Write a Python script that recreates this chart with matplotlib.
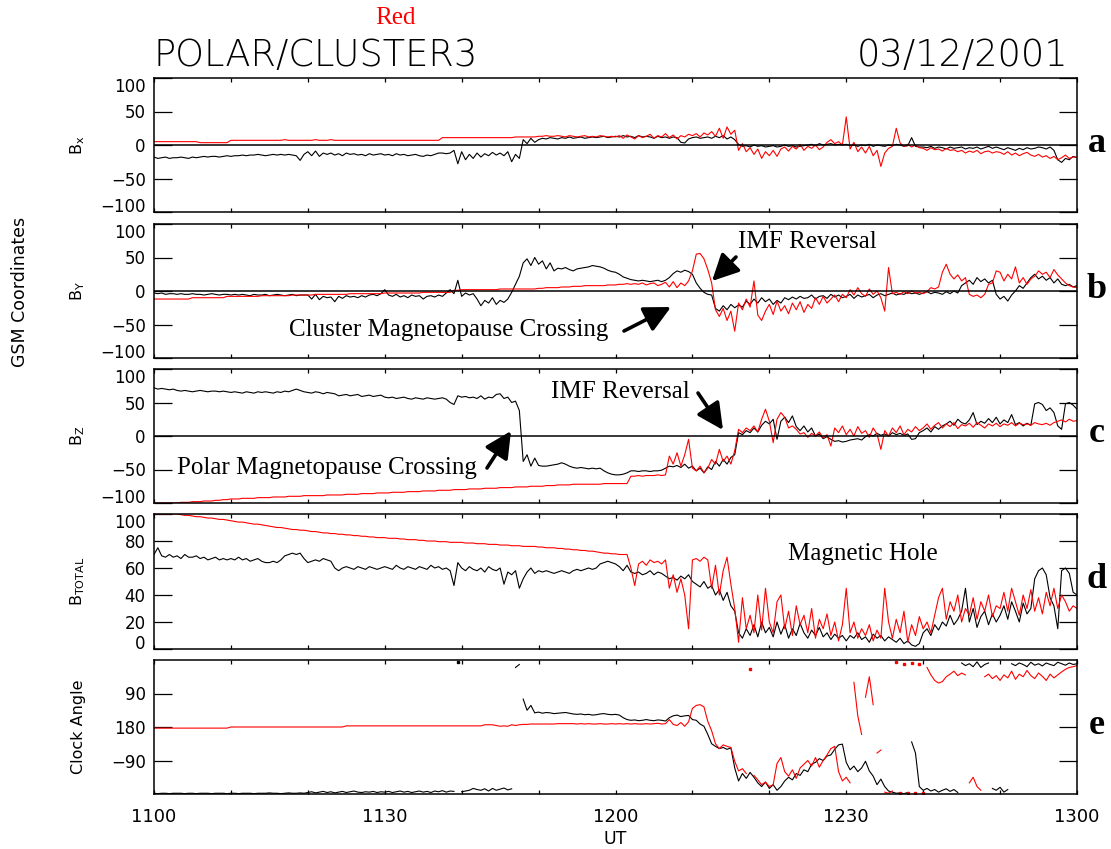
import numpy as np
import matplotlib
matplotlib.use("Agg")
import matplotlib.pyplot as plt
from matplotlib.patches import FancyArrowPatch

plt.rcParams["font.family"] = "DejaVu Sans"

# ---- magnetic field, nT, one sample every 30 s from 1100 to 1300 UT ----
# black = POLAR, red = CLUSTER3
bx_black = [
    -18, -20, -19, -18, -20, -19, -19, -18, -19, -20, -18, -19, -18, -17, -18, -17, -17, -18, -17, -16,
    -17, -16, -16, -15, -16, -15, -15, -14, -15, -16, -15, -14, -15, -14, -15, -14, -15, -16, -23, -14,
    -10, -16, -9, -17, -12, -14, -12, -15, -13, -16, -12, -14, -13, -15, -14, -16, -13, -15, -14, -13,
    -15, -14, -16, -13, -15, -14, -16, -15, -14, -16, -17, -15, -16, -14, -12, -12, -13, -12, -8, -28,
    -10, -22, -14, -20, -12, -18, -13, -16, -11, -15, -12, -16, -10, -25, -14, -20, 8, 2, 10, 4,
    8, 10, 9, 11, 10, 9, 11, 10, 12, 10, 11, 12, 10, 11, 12, 11, 12, 13, 11, 12,
    13, 12, 14, 12, 13, 11, 14, 12, 13, 12, 10, 13, 11, 12, 10, 12, 11, 4, 3, 9,
    11, 12, 10, 11, 12, 10, 13, 11, 14, 9, 12, 8, 1, -2, -1, -3, 0, -2, -1, -3,
    -2, -1, -3, -2, 0, -2, -1, -3, -2, -1, 0, 1, -1, 2, 0, 1, 2, 0, 1, 0,
    1, -1, 0, -2, 0, -1, 1, -2, 0, -1, -2, 0, -1, 1, 0, -2, -1, 11, -2, -3,
    -3, -4, -2, -5, -3, -4, -6, -3, -5, -4, -3, -6, -4, -5, -3, -6, -4, -2, -5, -3,
    -5, -7, -4, -6, -8, -5, -7, -4, -6, -5, -3, -4, -6, -3, -8, -22, -26, -20, -22, -17,
    -19,
]
bx_red = [
    5, 5, 5, 5, 5, 5, 5, 5, 5, 5, 5, 5, 3.5, 3.5, 3.5, 3.5, 3.5, 3.5, 3.5, 3.5,
    7, 7, 7, 7, 7, 7, 7, 7, 7, 7, 7, 7, 7, 7, 8, 7, 7, 7, 7, 7,
    7, 7, 8, 7, 7, 7, 8, 7, 7, 7, 7, 7, 7, 7, 7, 7, 7, 7, 7, 7,
    7, 7, 7, 7, 7, 7, 7, 7, 7, 7, 7, 7, 7, 7, 7, 11, 11, 11, 11, 11,
    11, 11, 11, 11, 11, 11, 11, 11, 11, 11, 11, 11, 11, 11, 12, 12, 12, 12, 12, 12,
    13, 13, 14, 13, 13, 14, 13, 12, 14, 13, 12, 13, 14, 12, 13, 12, 14, 13, 12, 13,
    12, 14, 10, 15, 12, 9, 14, 11, 13, 16, 10, 14, 12, 17, 11, 15, 9, 14, 12, 16,
    14, 17, 12, 18, 15, 20, 13, 25, 10, 27, 16, 22, -8, 2, -10, -4, -14, -6, -20, -10,
    -16, -8, -17, -6, -3, -9, -2, -6, 1, -8, -2, -5, 0, -7, -3, 4, 8, 2, 5, 0,
    42, -6, 4, -10, -3, -12, -2, -16, -8, -32, -12, -5, -2, 25, 3, -2, 1, -3, 0, -4,
    -5, -8, -4, -7, -6, -9, -5, -8, -7, -10, -8, -12, -9, -11, -8, -13, -10, -9, -12, -10,
    -11, -14, -10, -15, -12, -16, -13, -11, -15, -17, -14, -18, -16, -20, -17, -22, -19, -15, -20, -18,
    -18,
]
by_black = [
    -3, -4, -3, -5, -4, -4, -5, -4, -5, -5, -4, -5, -5, -6, -5, -4, -5, -6, -5, -5,
    -6, -5, -6, -5, -6, -7, -5, -6, -6, -5, -7, -6, -5, -6, -7, -6, -5, -7, -6, -6,
    -6, -12, -5, -13, -8, -10, -9, -16, -8, -11, -7, -9, -8, -10, -7, -9, -6, -5, -7, -4,
    2, -6, -8, -5, -9, -7, -10, -6, -8, -7, -12, -8, -7, -9, -6, -8, -3, 2, -4, 16,
    -8, -3, -6, -4, -12, -22, -14, -18, -10, -20, -14, -17, -12, -2, 10, 22, 42, 48, 38, 50,
    40, 45, 33, 42, 30, 34, 33, 35, 32, 30, 33, 34, 35, 36, 38, 37, 36, 34, 31, 29,
    28, 25, 21, 19, 17, 16, 15, 16, 15, 14, 15, 16, 14, 16, 20, 26, 30, 28, 31, 29,
    25, 12, 4, -2, -5, -6, -26, -30, -22, -28, -20, -25, -21, -24, -15, -20, -12, -18, -10, -16,
    -12, -20, -14, -18, -10, -13, -9, -12, -8, -11, -10, -6, -12, -8, -7, -11, -5, -9, -6, -10,
    -8, -5, -11, -6, -9, -7, -5, -10, -6, -4, -7, -5, -3, -6, -4, -5, -2, -4, -3, -5,
    -3, -1, -4, -2, -3, -5, -1, -4, 0, -3, 8, 12, 16, 10, 20, 14, 18, 12, 16, -5,
    -12, -8, -15, -6, 0, 8, 4, 12, 20, 25, 18, 22, 16, 20, 12, 18, 10, 8, 10, 6,
    8,
]
by_red = [
    -12, -12, -12, -12, -12, -12, -12, -12, -12, -12, -10, -10, -10, -10, -10, -10, -10, -10, -10, -8,
    -8, -8, -8, -8, -8, -8, -8, -8, -7, -7, -7, -7, -7, -7, -7, -7, -6, -6, -6, -6,
    -6, -6, -5, -5, -5, -5, -5, -5, -5, -5, -5, -4, -4, -4, -4, -4, -4, -4, -4, -4,
    -3, -3, -3, -3, -3, -3, -3, -3, -3, -3, -2, -2, -2, -2, -2, -2, -2, -2, 1, 1,
    2, 2, 2, 2, 2, 2, 2, 2, 2, 2, 3, 3, 3, 3, 3, 3, 3, 3, 3, 3,
    4, 4, 5, 5, 5, 5, 6, 6, 6, 7, 7, 7, 8, 8, 8, 8, 8, 8, 9, 9,
    9, 10, 10, 11, 10, 11, 10, 12, 9, 11, 12, 8, 10, 13, 6, 14, 5, 12, 8, 15,
    30, 55, 56, 48, 32, 12, -28, -38, -26, -44, -30, -60, -18, -28, -12, -24, 15, -36, -44, -30,
    -20, -35, -15, -30, -22, -34, -18, -28, -16, -32, -20, -26, -10, -20, -8, -18, -12, -6, -16, -5,
    -10, 2, -6, 5, -4, -8, 3, -5, 0, -10, -30, 35, -4, -2, -5, -1, -4, 0, -3, -2,
    -4, -1, 5, 3, 6, 28, 40, 25, 18, 24, 15, 20, -5, -8, -6, -10, -5, 10, 12, 30,
    28, 15, 25, 18, 36, 12, 20, 10, 18, 22, 30, 25, 28, 20, 32, 24, 18, 12, 8, 6,
    5,
]
bz_black = [
    72, 70, 71, 70, 69, 70, 68, 67, 68, 67, 66, 67, 68, 67, 66, 67, 67, 66, 67, 66,
    65, 66, 65, 64, 66, 65, 64, 66, 65, 66, 65, 64, 66, 65, 67, 66, 68, 70, 68, 66,
    65, 64, 66, 65, 63, 65, 64, 63, 60, 61, 62, 60, 61, 62, 59, 60, 61, 59, 60, 61,
    58, 57, 58, 56, 57, 58, 56, 55, 57, 56, 55, 57, 56, 55, 56, 57, 55, 50, 47, 60,
    58, 59, 57, 58, 56, 60, 55, 58, 57, 62, 63, 56, 58, 50, 52, 38, -38, -28, -45, -33,
    -44, -45, -45, -44, -43, -42, -40, -42, -45, -47, -48, -47, -48, -49, -48, -49, -48, -52, -55, -57,
    -58, -58, -57, -55, -52, -52, -53, -52, -52, -53, -52, -52, -51, -48, -45, -46, -44, -47, -42, -48,
    -45, -52, -48, -55, -46, -50, -38, -45, -35, -42, -32, -28, 5, 2, 8, 5, 12, 6, 16, 22,
    18, 25, -5, 22, 28, 20, 30, 14, 8, 15, 6, 12, 0, 3, -4, -1, -5, -8, -7, -9,
    -8, -6, -5, -4, -6, -1, 2, 0, 4, 1, 3, 0, 5, 2, 4, 1, 3, -5, -4, 5,
    8, 12, 6, 14, 10, 15, 18, 22, 16, 25, 20, 18, 24, 35, 17, 22, 19, 26, 20, 28,
    18, 24, 20, 32, 17, 20, 15, 19, 16, 48, 50, 47, 38, 42, 35, 15, 10, 48, 50, 46,
    40,
]
bz_red = [
    -100, -100, -100, -100, -100, -100, -100, -99, -99, -99, -98, -98, -98, -97, -97, -97, -96, -96, -95, -95,
    -94, -94, -94, -93, -93, -93, -93, -92, -92, -92, -92, -91, -91, -91, -91, -90, -90, -90, -90, -89,
    -89, -89, -89, -89, -89, -88, -88, -88, -88, -88, -87, -87, -87, -87, -86, -86, -86, -86, -85, -85,
    -85, -85, -84, -84, -84, -84, -83, -83, -83, -83, -82, -82, -82, -82, -81, -81, -81, -81, -80, -80,
    -80, -80, -79, -79, -79, -79, -78, -78, -78, -78, -77, -77, -77, -77, -76, -76, -76, -76, -75, -75,
    -75, -75, -74, -74, -74, -73, -73, -73, -73, -72, -72, -72, -72, -72, -72, -72, -72, -71, -71, -71,
    -71, -71, -71, -71, -60, -60, -59, -60, -59, -59, -59, -58, -59, -58, -30, -42, -25, -45, -28, -5,
    -48, -52, -45, -55, -48, -35, -42, -20, -38, -30, -42, -22, 10, 5, 12, 8, 15, 6, 25, 40,
    22, -10, 25, 35, 28, 12, 15, 10, 3, 5, -2, 4, 0, 6, -3, 2, -15, 12, 5, 15,
    2, 10, 0, 14, 4, 8, -2, 12, 3, -20, 8, 0, 12, 5, 15, 2, 10, 6, 14, 8,
    12, 18, 10, 16, 20, 12, 18, 14, 20, 11, 17, 15, 19, 13, 20, 16, 12, 18, 15, 19,
    14, 18, 16, 20, 15, 19, 17, 18, 16, 20, 18, 17, 19, 16, 20, 22, 24, 21, 25, 22,
    23,
]
bt_black = [
    70, 75, 69, 68, 70, 68, 69, 67, 70, 68, 68, 69, 67, 68, 66, 67, 68, 66, 67, 66,
    67, 66, 68, 66, 67, 65, 66, 67, 65, 64, 64, 65, 64, 66, 69, 70, 71, 70, 71, 67,
    64, 65, 66, 65, 67, 66, 65, 60, 58, 60, 61, 60, 59, 61, 60, 59, 61, 60, 59, 60,
    61, 60, 59, 62, 60, 59, 61, 60, 59, 61, 60, 59, 62, 60, 61, 59, 60, 58, 47, 64,
    60, 58, 61, 59, 58, 60, 57, 61, 59, 58, 60, 48, 57, 55, 58, 45, 52, 57, 60, 56,
    58, 57, 58, 57, 56, 57, 58, 57, 56, 58, 59, 58, 59, 60, 59, 60, 63, 64, 65, 64,
    63, 61, 58, 62, 57, 56, 57, 55, 56, 58, 55, 57, 56, 54, 52, 53, 51, 54, 52, 55,
    50, 48, 46, 50, 45, 47, 40, 44, 36, 42, 32, 28, 12, 8, 15, 10, 18, 9, 20, 12,
    16, 9, 20, 11, 18, 8, 15, 10, 19, 12, 8, 14, 10, 16, 9, 12, 7, 11, 8, 10,
    6, 10, 8, 12, 7, 9, 5, 11, 8, 10, 6, 9, 7, 5, 8, 4, 6, 3, 2, 4,
    12, 15, 10, 18, 14, 20, 17, 25, 18, 22, 28, 45, 20, 30, 16, 24, 28, 18, 26, 20,
    25, 32, 22, 35, 28, 20, 34, 26, 30, 52, 58, 60, 55, 38, 32, 15, 58, 60, 56, 42,
    40,
]
bt_red = [
    100, 100, 100, 100, 100, 100, 100, 99.5, 99, 99, 98.5, 98, 98, 97.5, 97, 97, 96.5, 96, 96, 95.5,
    95, 94.5, 94, 94, 93.5, 93, 92.5, 92.5, 92, 91.5, 91, 90.5, 90, 90, 89.5, 89, 88.5, 88.5, 88, 88,
    87.5, 87, 87, 86.5, 86, 86, 85.5, 85.5, 85, 85, 84.5, 84.5, 84, 84, 83.5, 83.5, 83, 83, 82.5, 82.5,
    82.5, 82, 82, 82, 81.5, 81.5, 81, 81, 81, 80.5, 80.5, 80, 80, 80, 79.5, 79.5, 79.5, 79, 79, 79,
    79, 78.5, 78.5, 78.5, 78, 78, 78, 77.5, 77.5, 77.5, 77, 77, 77, 76.5, 76.5, 76.5, 76, 76, 76, 76,
    75.5, 75.5, 75, 75, 75, 74.5, 74.5, 74, 74, 73.5, 73.5, 73, 73, 72.5, 72.5, 72, 71.5, 71, 71, 70.5,
    70.5, 70, 70, 70, 60, 47, 63, 65, 62, 66, 64, 65, 63, 66, 45, 55, 42, 52, 40, 15,
    66, 67, 65, 68, 66, 45, 62, 40, 58, 68, 48, 30, 5, 38, 15, 25, 12, 40, 14, 45,
    20, 12, 35, 40, 15, 28, 10, 32, 18, 25, 12, 30, 8, 22, 15, 26, 10, 20, 6, 18,
    45, 12, 20, 8, 15, 10, 18, 6, 14, 8, 45, 20, 8, 22, 12, 28, 5, 18, 10, 24,
    15, 20, 12, 25, 38, 45, 22, 35, 28, 40, 20, 30, 25, 38, 22, 35, 28, 40, 24, 32,
    30, 42, 28, 45, 35, 25, 40, 30, 44, 28, 38, 26, 42, 32, 45, 30, 40, 35, 28, 32,
    30,
]
# clock angle in degrees, 0..360 (drawn with 0 at the top, wrapping at the bottom)
clock_black = [
    358, 359, 358, 358, 359, 358, 358, 358, 359, 358, 358, 359, 358, 358, 358, 359, 358, 358, 358, 359,
    358, 358, 359, 358, 358, 358, 359, 358, 358, 358, 357, 358, 358, 359, 358, 357, 358, 358, 357, 358,
    356, 354, 357, 355, 353, 356, 354, 357, 355, 353, 356, 354, 352, 355, 356, 354, 355, 353, 356, 354,
    355, 353, 356, 354, 352, 355, 353, 356, 354, 352, 355, 353, 356, 352, 354, 351, 355, 352, 353, 6,
    354, 352, 350, 345, 348, 350, 346, 352, 345, 350, 347, 344, 349, 346, 20, 12, 105, 135, 122, 142,
    140, 143, 141, 142, 144, 143, 142, 141, 143, 145, 146, 145, 147, 146, 148, 147, 145, 144, 146, 147,
    146, 148, 155, 160, 162, 161, 163, 162, 160, 162, 163, 161, 162, 164, 155, 150, 148, 152, 150, 149,
    160, 162, 172, 178, 200, 225, 232, 238, 235, 240, 236, 290, 325, 305, 318, 302, 315, 330, 340, 328,
    345, 335, 350, 340, 325, 315, 322, 305, 310, 295, 300, 280, 275, 265, 270, 258, 255, 240, 228, 226,
    275, 295, 285, 300, 290, 272, 298, 312, 335, 320, 340, 352, 355, 358, 357, 359, 356, 220, 250, 340,
    350, 345, 352, 348, 355, 350, 346, 353, 348, 356, 8, 15, 10, 18, 5, 20, 12, 8, 345, 350,
    342, 355, 348, 10, 15, 8, 12, 18, 6, 14, 10, 16, 8, 12, 15, 6, 10, 14, 8, 12,
    10,
]
clock_red = [
    183, 183, 183, 183, 183, 183, 183, 183, 183, 183, 183, 183, 183, 183, 183, 183, 183, 183, 183, 183,
    180, 180, 180, 180, 180, 180, 180, 180, 180, 180, 180, 180, 180, 180, 180, 180, 180, 180, 180, 180,
    180, 180, 180, 180, 180, 180, 180, 180, 180, 180, 177, 177, 177, 177, 177, 177, 177, 177, 177, 177,
    177, 177, 177, 177, 177, 177, 177, 177, 177, 177, 177, 177, 177, 177, 177, 177, 177, 177, 177, 177,
    177, 177, 177, 177, 177, 177, 174, 174, 174, 176, 178, 177, 178, 174, 176, 174, 173, 173, 172, 172,
    172, 172, 172, 172, 172, 171, 171, 171, 171, 171, 172, 171, 172, 171, 172, 172, 171, 172, 172, 171,
    172, 171, 172, 171, 172, 171, 172, 172, 171, 172, 171, 170, 172, 171, 160, 173, 176, 168, 178, 166,
    130, 122, 120, 126, 165, 190, 225, 238, 228, 232, 235, 272, 298, 292, 305, 25, 310, 322, 335, 328,
    340, 335, 278, 262, 300, 312, 295, 318, 290, 280, 270, 285, 262, 288, 270, 255, 238, 232, 300, 325,
    315, 330, 60, 150, 200, 100, 45, 120, 250, 242, 355, 358, 352, 5, 357, 10, 356, 8, 358, 12,
    358, 20, 40, 55, 62, 58, 45, 38, 30, 42, 35, 40, 330, 315, 340, 350, 45, 38, 50, 42,
    55, 40, 48, 30, 52, 38, 45, 28, 42, 50, 35, 44, 55, 38, 48, 40, 32, 25, 20, 18,
    15,
]

ut_ticks = [0, 30, 60, 90, 120]
ut_labels = ["1100", "1130", "1200", "1230", "1300"]

W, H = 1111, 849
X0, X1 = 154, 1077
ROWS = [(78, 212), (224, 358), (369, 503), (514, 649), (660, 794)]
MINUS = "\u2212"
SERIF = "Liberation Serif"


def px(x, y):
    """figure pixel (from top-left) -> figure fraction"""
    return x / W, 1 - y / H


def series(vals):
    v = np.asarray(vals, dtype=float)
    return np.linspace(0, 120, len(v)), v


def break_wraps(vals, jump=90):
    t, v = series(vals)
    cut = np.where(np.abs(np.diff(v)) > jump)[0] + 1
    return np.insert(t, cut, np.nan), np.insert(v, cut, np.nan)


def isolated(t, v):
    # samples cut off on both sides by a wrap; a line alone would not show them
    prev_nan = np.r_[True, np.isnan(v[:-1])]
    next_nan = np.r_[np.isnan(v[1:]), True]
    keep = prev_nan & next_nan & ~np.isnan(v)
    return t[keep], v[keep]


fig = plt.figure(figsize=(W / 100, H / 100), dpi=100)

pm100 = ([-100, -50, 0, 50, 100], [MINUS + "100", MINUS + "50", "0", "50", "100"])
panels = [
    (bx_black, bx_red, (-100, 100), pm100, r"$\mathregular{B_x}$", "a"),
    (by_black, by_red, (-100, 100), pm100, r"$\mathregular{B_Y}$", "b"),
    (bz_black, bz_red, (-100, 100), pm100, r"$\mathregular{B_Z}$", "c"),
    (bt_black, bt_red, (0, 100), ([0, 20, 40, 60, 80, 100], ["0", "20", "40", "60", "80", "100"]),
     r"$\mathregular{B_{TOTAL}}$", "d"),
    (clock_black, clock_red, (360, 0), ([90, 180, 270], ["90", "180", MINUS + "90"]),
     "Clock Angle", "e"),
]

axes = []
for (top, bot), (blk, red, ylim, (yt, ytl), ylab, letter) in zip(ROWS, panels):
    ax = fig.add_axes([X0 / W, 1 - bot / H, (X1 - X0) / W, (bot - top) / H])
    axes.append(ax)
    if letter == "e":
        for vals, col in ((blk, "black"), (red, "red")):
            tt, vv = break_wraps(vals)
            ax.plot(tt, vv, color=col, lw=0.8)
            ax.plot(*isolated(tt, vv), ls="none", marker="s", ms=1.6, color=col)
    else:
        ax.plot(*series(blk), color="black", lw=0.8)
        ax.plot(*series(red), color="red", lw=0.8)
        if letter in "abc":
            ax.axhline(0, color="black", lw=1.1, zorder=3)

    ax.set_xlim(0, 120)
    ax.set_ylim(*ylim)
    ax.set_yticks(yt)
    ax.set_yticklabels(ytl, fontsize=12)
    if letter != "e":
        # end labels sit inside the frame so neighbouring panels don't collide
        labels = ax.get_yticklabels()
        labels[0].set_va("baseline")
        labels[-1].set_va("top")
    ax.set_xticks(np.arange(0, 121, 10))
    ax.tick_params(axis="y", direction="in", length=13, width=0.9,
                   left=True, right=True, pad=6)
    ax.tick_params(axis="x", direction="in", length=3, width=0.9,
                   top=True, bottom=True, pad=10)
    for s in ax.spines.values():
        s.set_linewidth(1.1)

    ymid = (top + bot) / 2
    fig.text(*px(78, ymid), ylab, rotation=90, ha="center", va="center", fontsize=11.5)
    fig.text(*px(1097, ymid - 2), letter, ha="center", va="center",
             fontsize=26, fontweight="bold", family=SERIF)

for ax in axes[:-1]:
    ax.set_xticklabels([])
axes[-1].set_xticks(ut_ticks, minor=False)
axes[-1].set_xticks(np.arange(0, 121, 10), minor=True)
axes[-1].set_xticklabels(ut_labels, fontsize=13)
axes[-1].tick_params(axis="x", which="both", direction="in", length=3, width=0.9,
                     top=True, bottom=True, pad=10)

fig.text(*px(615, 839), "UT", ha="center", va="center", fontsize=12.5)
fig.text(*px(20, 292), "GSM Coordinates", rotation=90, ha="center", va="center",
         fontsize=12.5)

# header
fig.text(*px(153, 55), "POLAR/CLUSTER3", ha="left", va="center", fontsize=26.5,
         fontweight="light")
fig.text(*px(1068, 55), "03/12/2001", ha="right", va="center", fontsize=26.5,
         fontweight="light")
fig.text(*px(395, 18), "Red", ha="center", va="center", fontsize=18, color="red",
         family=SERIF)

# event annotations
notes = [
    ("Cluster Magnetopause Crossing", (289, 330), (624, 331), (671, 307)),
    ("IMF Reversal", (738, 242), (736, 257), (712, 281)),
    ("IMF Reversal", (551, 392), (698, 393), (723, 430)),
    ("Polar Magnetopause Crossing", (177, 468), (487, 468), (511, 431)),
    ("Magnetic Hole", (788, 554), None, None),
]
for text, (tx, ty), tail, head in notes:
    fig.text(*px(tx, ty), text, ha="left", va="center", fontsize=18, family=SERIF)
    if tail is not None:
        arrow = FancyArrowPatch(px(*tail), px(*head), transform=fig.transFigure,
                                arrowstyle="-|>,head_length=0.8,head_width=0.4",
                                lw=2.6, color="black", mutation_scale=20,
                                shrinkA=0, shrinkB=0)
        fig.add_artist(arrow)

fig.savefig("out.png", dpi=100)
